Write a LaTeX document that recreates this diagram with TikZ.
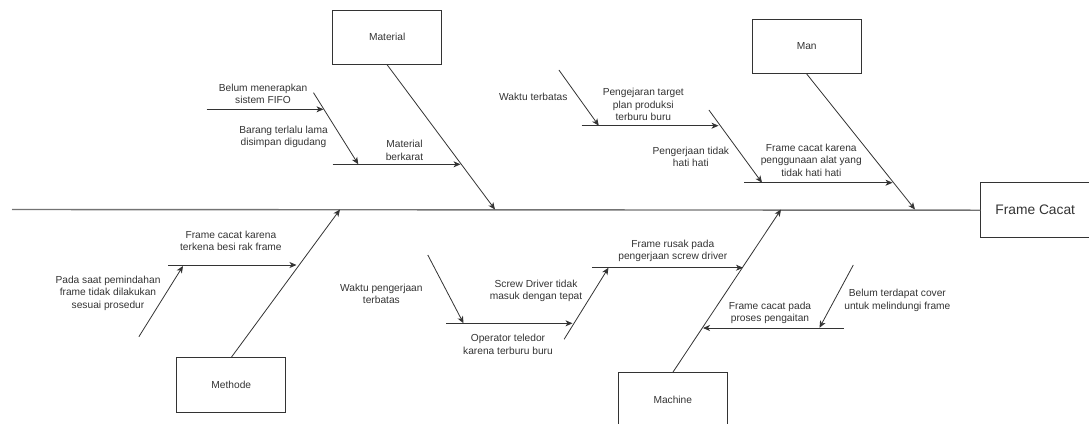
\documentclass[tikz,border=0pt]{standalone}
\usepackage{fontspec}
\setmainfont{Liberation Sans}
\usetikzlibrary{arrows.meta}
\begin{document}
\begin{tikzpicture}[x=1bp,y=-1bp,
  box/.style={draw=black!80, line width=0.8bp, minimum width=109bp, minimum height=54.5bp,
    inner sep=0pt, font=\fontsize{10.2bp}{12.5bp}\selectfont, text=black!80},
  headbox/.style={box, draw=none, minimum height=55bp, font=\fontsize{13.8bp}{16bp}\selectfont},
  frameline/.style={draw=black!80, line width=0.8bp},
  lbl/.style={align=center, inner sep=0pt, font=\fontsize{10.2bp}{12.5bp}\selectfont, text=black!80},
  bone/.style={draw=black!80, line width=0.8bp, -{Stealth[length=7bp,width=6bp,inset=2bp]}},
  spine/.style={draw=black!55, line width=1.4bp}]
\useasboundingbox (0,0) rectangle (1089,423);
\clip (0,0) rectangle (1089,423);

% effect box (runs past the right edge) and spine
\node[headbox] (fc) at (1035.2,210.2) {Frame Cacat};
\draw[frameline] (fc.north west) rectangle ++(120,55);
\coordinate (spineL) at (12,209.5);
\draw[spine] (spineL) -- (fc.west);

% category boxes
\node[box] (mat) at (387.2,37.2) {Material};
\node[box] (man) at (806.7,46.3) {Man};
\node[box] (met) at (231.3,385) {Methode};
\node[box] (mac) at (672.8,400) {Machine};

% main bones meeting the spine
\coordinate (matT) at (495,209.5);
\coordinate (manT) at (915,209.5);
\coordinate (metT) at (340,209.5);
\coordinate (macT) at (781,209.5);
\draw[bone] (mat.south) -- (matT);
\draw[bone] (man.south) -- (manT);
\draw[bone] (met.north) -- (metT);
\draw[bone] (mac.north) -- (macT);

% Material causes
\coordinate (m1a) at (332.6,164.3); \coordinate (m1b) at (460.5,164.3);
\coordinate (m2a) at (313.5,92.7);  \coordinate (m2b) at (358.3,164.3);
\coordinate (m3a) at (206.5,109.3); \coordinate (m3b) at (323.5,109.3);
\draw[bone] (m1a) -- (m1b);
\draw[bone] (m2a) -- (m2b);
\draw[bone] (m3a) -- (m3b);
\node[lbl] (l1) at (404.5,150.3) {Material\\berkarat};
\node[lbl] (l2) at (263,93.7) {Belum menerapkan\\sistem FIFO};
\node[lbl] (l3) at (283.5,137) {Barang terlalu lama\\disimpan digudang};

% Man causes
\coordinate (w1a) at (558.9,70);    \coordinate (w1b) at (598.8,125.7);
\coordinate (w2a) at (581.5,125.7); \coordinate (w2b) at (718.5,125.7);
\coordinate (w3a) at (708.9,110);   \coordinate (w3b) at (762,182.7);
\coordinate (w4a) at (744,182.7);   \coordinate (w4b) at (892.5,182.7);
\draw[bone] (w1a) -- (w1b);
\draw[bone] (w2a) -- (w2b);
\draw[bone] (w3a) -- (w3b);
\draw[bone] (w4a) -- (w4b);
\node[lbl] (l4) at (533.3,96.7) {Waktu terbatas};
\node[lbl] (l5) at (643.3,104.7) {Pengejaran target\\plan produksi\\terburu buru};
\node[lbl] (l6) at (690.8,156.7) {Pengerjaan tidak\\hati hati};
\node[lbl] (l7) at (811.3,160.3) {Frame cacat karena\\penggunaan alat yang\\tidak hati hati};

% Methode causes
\coordinate (t1a) at (168.4,265);   \coordinate (t1b) at (296.5,265);
\coordinate (t2a) at (138.9,336.7); \coordinate (t2b) at (183,266);
\draw[bone] (t1a) -- (t1b);
\draw[bone] (t2a) -- (t2b);
\node[lbl] (l8) at (230.9,241) {Frame cacat karena\\terkena besi rak frame};
\node[lbl] (l9) at (108,293) {Pada saat pemindahan\\frame tidak dilakukan\\sesuai prosedur};

% Machine causes
\coordinate (c1a) at (427.8,255);   \coordinate (c1b) at (463.5,323.3);
\coordinate (c2a) at (446,323.3);   \coordinate (c2b) at (572.5,323.3);
\coordinate (c3a) at (564.1,339.3); \coordinate (c3b) at (608.5,267.7);
\coordinate (c4a) at (591.9,267.7); \coordinate (c4b) at (743,267.7);
\coordinate (c5a) at (853.3,265);   \coordinate (c5b) at (819.5,327.8);
\coordinate (c6a) at (843.6,328);   \coordinate (c6b) at (703,328);
\draw[bone] (c1a) -- (c1b);
\draw[bone] (c2a) -- (c2b);
\draw[bone] (c3a) -- (c3b);
\draw[bone] (c4a) -- (c4b);
\draw[bone] (c5a) -- (c5b);
\draw[bone] (c6a) -- (c6b);
\node[lbl] (l10) at (381.4,293.7) {Waktu pengerjaan\\terbatas};
\node[lbl] (l11) at (508,344.2) {Operator teledor\\karena terburu buru};
\node[lbl] (l12) at (536,290.8) {Screw Driver tidak\\masuk dengan tepat};
\node[lbl] (l13) at (672.8,251) {Frame rusak pada\\pengerjaan screw driver};
\node[lbl] (l14) at (770,312.7) {Frame cacat pada\\proses pengaitan};
\node[lbl] (l15) at (897.4,300.3) {Belum terdapat cover\\untuk melindungi frame};
\end{tikzpicture}
\end{document}
